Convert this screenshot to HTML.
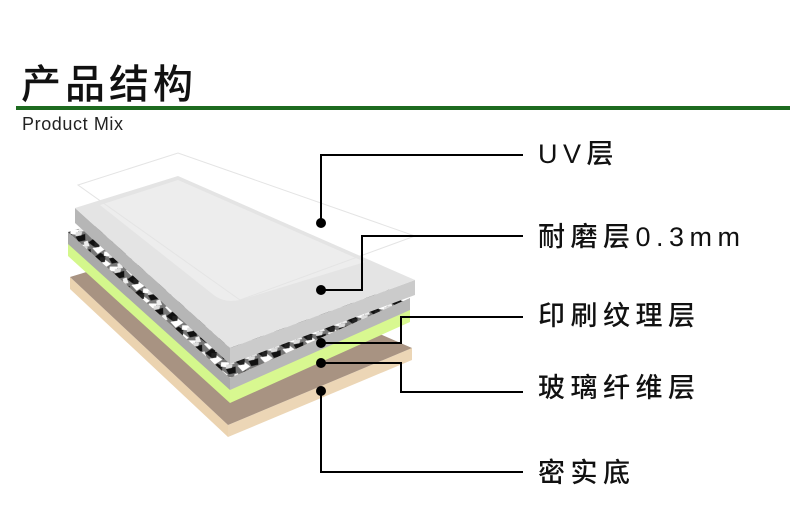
<!DOCTYPE html>
<html><head><meta charset="utf-8"><style>
html,body{margin:0;padding:0;background:#fff;}
body{width:790px;height:510px;position:relative;overflow:hidden;font-family:"Liberation Sans","Noto Sans CJK SC",sans-serif;}
.t{position:absolute;left:21px;top:56px;font-size:40px;letter-spacing:4px;color:#111;font-family:"Noto Sans CJK SC",sans-serif;line-height:50px;font-weight:500;}
.g{position:absolute;left:16px;top:106px;width:774px;height:4px;background:#1d6b1f;}
.s{position:absolute;left:22px;top:114px;font-size:18px;letter-spacing:0.6px;color:#222;}
.l{position:absolute;left:538px;font-size:27px;letter-spacing:5.5px;color:#111;font-family:"Liberation Sans","Noto Sans CJK SC",sans-serif;line-height:34px;font-weight:500;}
svg{position:absolute;left:0;top:0;}
</style></head><body>
<div class="t">产品结构</div>
<div class="g"></div>
<div class="s">Product Mix</div>
<svg width="790" height="510" viewBox="0 0 790 510">
<defs>
<pattern id="p" width="24" height="16" patternUnits="userSpaceOnUse" patternTransform="rotate(-20)">
<rect width="24" height="16" fill="#777"/>
<path d="M0 2 L8 0 L12 5 L4 8Z" fill="#111"/>
<path d="M12 0 L20 3 L16 7 L10 4Z" fill="#fff"/>
<path d="M2 9 L10 8 L14 14 L5 16Z" fill="#fff"/>
<path d="M14 8 L24 9 L22 15 L15 14Z" fill="#111"/>
<path d="M20 0 L24 0 L24 6 L19 5Z" fill="#eee"/>
<path d="M6 4 L11 6 L9 10 L4 9Z" fill="#222"/>
<path d="M16 4 L22 6 L20 9 L14 8Z" fill="#ddd"/>
</pattern>
</defs>
<polygon points="70,277 228,425 228,437 70,289" fill="#ebd3b0"/>
<polygon points="228,425 412,348 412,360 228,437" fill="#ecd6b6"/>
<polygon points="70,277 175,245 412,348 228,425" fill="#a89382"/>
<polygon points="68,242 230,388 230,403 68,256" fill="#d4f78c"/>
<polygon points="230,388 410,308 410,322 230,403" fill="#d8f890"/>
<polygon points="68,232 230,378 230,390 68,244" fill="#a9a9a9"/>
<polygon points="230,378 410,298 410,310 230,390" fill="#b8b8b8"/>
<polygon points="68,232 175,200 410,298 230,378" fill="url(#p)"/>
<polygon points="75,208 230,348 230,364 75,223" fill="#b6b6b6"/>
<polygon points="230,348 415,280 415,295 230,364" fill="#cbcbcb"/>
<polygon points="75,208 178,176 415,280 230,348" fill="#e4e4e4"/>
<path d="M100,205 L178,180 L365,262 L240,300 Q225,303 215,296 Z" fill="#ededed"/>
<polygon points="78,185 178,153 415,236 240,300" fill="none" stroke="#e4e4e4" stroke-width="1"/>
<g stroke="#000" stroke-width="2" fill="none">
<polyline points="321,223 321,155 523,155"/>
<polyline points="321,290 362,290 362,236 523,236"/>
<polyline points="321,343 401,343 401,317 523,317"/>
<polyline points="321,363 401,363 401,392 523,392"/>
<polyline points="321,391 321,472 523,472"/>
</g>
<g fill="#000">
<circle cx="321" cy="223" r="5"/>
<circle cx="321" cy="290" r="5"/>
<circle cx="321" cy="343" r="5"/>
<circle cx="321" cy="363" r="5"/>
<circle cx="321" cy="391" r="5"/>
</g>
</svg>
<div class="l" style="top:137px">UV层</div>
<div class="l" style="top:220px">耐磨层0.3mm</div>
<div class="l" style="top:299px">印刷纹理层</div>
<div class="l" style="top:371px">玻璃纤维层</div>
<div class="l" style="top:456px">密实底</div>
</body></html>
